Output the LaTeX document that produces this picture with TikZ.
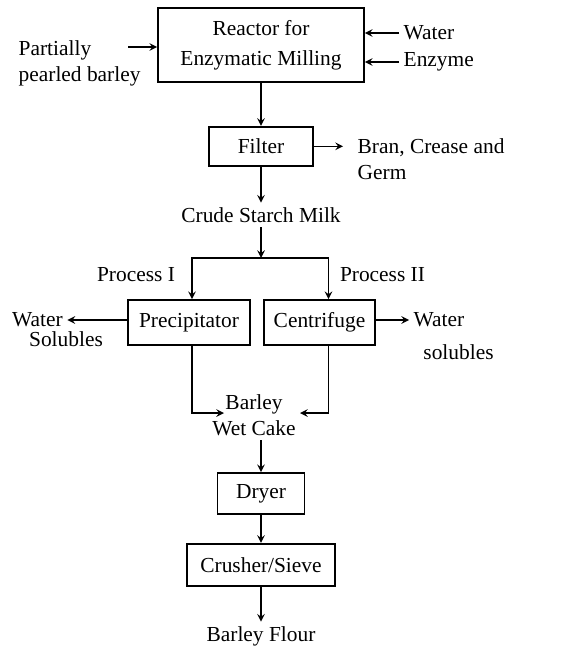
\documentclass[tikz,border=0pt]{standalone}
\usepackage{fontspec}
\setmainfont{Liberation Serif}
\usetikzlibrary{
  calc,
  positioning,
  arrows
}

\begin{document}
\begin{tikzpicture}[x = 0.5pt, y = -0.5pt, >=stealth, line width = 0.7pt,
    font = \fontsize{10.7}{13}\selectfont,
    unit/.style = {draw, line width = 0.9pt, align = center, inner sep = 2pt},
    txt/.style = {inner sep = 2pt}]
    \useasboundingbox (0,0) rectangle (569,648);

    \node[unit, minimum width = 103pt, minimum height = 37pt] (reactor) at (261,45) {Reactor for\\[2pt]Enzymatic Milling};
    \node[unit, minimum width = 52pt, minimum height = 19.5pt, below = 21.5pt of reactor] (filter) {Filter};
    \node[txt, below = 18pt of filter] (milk) {Crude Starch Milk};
    \node[unit, minimum width = 61pt, minimum height = 22.5pt] (prec) at (189,322.5) {Precipitator};
    \node[unit, minimum width = 55.5pt, minimum height = 22.5pt] (cent) at (319.5,322.5) {Centrifuge};
    \node[txt, align = center] (cake) at (254,415) {Barley\\Wet Cake};
    \node[unit, minimum width = 43.5pt, minimum height = 20.5pt] (dryer) at (261,493.5) {Dryer};
    \node[unit, minimum width = 74pt, minimum height = 21pt, below = 14pt of dryer] (crusher) {Crusher/Sieve};
    \node[txt, below = 17.5pt of crusher] (flour) {Barley Flour};

    \node[txt, align = left, anchor = west] (barley) at (14,63) {Partially\\pearled barley};
    \node[txt, anchor = west] (water) at (399,33) {Water};
    \node[txt, anchor = west] (enzyme) at (399,62) {Enzyme};
    \node[txt, align = left, anchor = west] (bran) at (353,159) {Bran, Crease and\\Germ};
    \node[txt] (p1) at (136,275) {Process I};
    \node[txt] (p2) at (382.5,275) {Process II};
    \node[txt] (wl) at (37.5,320) {Water};
    \node[txt] (sl) at (66,339) {Solubles};
    \node[txt] (wr) at (439,320) {Water};
    \node[txt] (sr) at (458.5,352) {solubles};

    \coordinate (feed) at (128,47);
    \coordinate (split) at (261,258);
    \coordinate (inL) at (224,413);
    \coordinate (inR) at (300,413);

    \draw[->] (feed) -- (feed -| reactor.west);
    \draw[->] (water.west) -- (water.west -| reactor.east);
    \draw[->] (enzyme.west) -- (enzyme.west -| reactor.east);
    \draw[->] (reactor) -- (filter);
    \draw[->, shorten > = 5pt] (filter.east) -- (filter.east -| bran.west);
    \draw[->] (filter) -- (milk);
    \draw[->] (milk) -- (split);
    \draw[->] (split) -| ([xshift = 1.5pt]prec.north);
    \draw[->] (split) -| ([xshift = 4.5pt]cent.north);
    \draw[->] (wl -| prec.west) -- (wl.east);
    \draw[->] (wr -| cent.east) -- (wr.west);
    \draw[->] ([xshift = 1.5pt]prec.south) |- (inL);
    \draw[->] ([xshift = 4.5pt]cent.south) |- (inR);
    \draw[->] (cake.south -| dryer) -- (dryer);
    \draw[->] (dryer) -- (crusher);
    \draw[->] (crusher) -- (flour);
  \end{tikzpicture}
\end{document}
